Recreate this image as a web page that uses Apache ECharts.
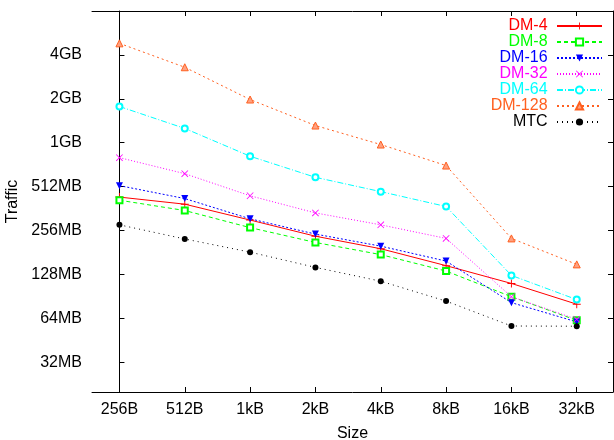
<!DOCTYPE html>
<html>
<head>
<meta charset="utf-8">
<script src="https://cdn.jsdelivr.net/npm/echarts@6/dist/echarts.min.js"></script>
<style>html,body{margin:0;padding:0;background:#fff}#c{width:614px;height:440px}</style>
</head>
<body>
<div id="c"></div>
<script>
// Categories (x axis)
var sizes = ['256B', '512B', '1kB', '2kB', '4kB', '8kB', '16kB', '32kB'];
// Traffic values in MB
var dm4   = [434, 388, 302, 234, 192, 147, 111, 80];
var dm8   = [413, 351, 268, 212, 175, 135, 90, 62];
var dm16  = [520, 424, 308, 242, 200, 158, 82, 60.5];
var dm32  = [809, 628, 443, 338, 280, 226, 90, 63];
var dm64  = [1814, 1283, 827, 593, 473, 374, 126, 86];
var dm128 = [4915, 3370, 2025, 1343, 995, 714, 226, 150];
var mtc   = [280, 224, 182, 143, 115, 84, 56.7, 56.5];
// Y tick values (MB)
var yTicks = [32, 64, 128, 256, 512, 1024, 2048, 4096];
var xTicks = [0, 1, 2, 3, 4, 5, 6, 7];

function pairs(arr) { return arr.map(function (v, i) { return [i, v]; }); }
function fmtY(v) { return v >= 1024 ? (v / 1024) + 'GB' : v + 'MB'; }

var FONT = 'Liberation Sans';
var FS = 16;
var plusPath = 'path://M0,4.4H10V5.6H0Z M4.4,0H5.6V10H4.4Z';
var crossPath = 'path://M0,0.8L0.8,0L10,9.2L9.2,10Z M9.2,0L10,0.8L0.8,10L0,9.2Z';

function mk(name, data, color, type, symbol, size, extra) {
  var s = {
    name: name, type: 'line', data: pairs(data),
    symbol: symbol, symbolSize: size,
    lineStyle: { color: color, width: 1, type: type },
    itemStyle: { color: color },
    animation: false
  };
  if (extra) for (var k in extra) s[k] = extra[k];
  return s;
}

var chart = echarts.init(document.getElementById('c'));
chart.setOption({
  backgroundColor: '#fff',
  animation: false,
  textStyle: { fontFamily: FONT },
  grid: { left: 92, right: 1, top: 11, bottom: 48, containLabel: false, outerBoundsMode: 'none' },
  legend: {
    right: 6, top: 13, orient: 'vertical', align: 'right',
    itemWidth: 45, itemHeight: 9, itemGap: 0,
    formatter: function (n) { return n + ' '; },
    textStyle: { fontSize: FS, lineHeight: 16, fontFamily: FONT },
    data: [
      { name: 'DM-4', textStyle: { color: '#ff0000' } },
      { name: 'DM-8', textStyle: { color: '#00ff00' } },
      { name: 'DM-16', textStyle: { color: '#0000ff' } },
      { name: 'DM-32', textStyle: { color: '#ff00ff' } },
      { name: 'DM-64', textStyle: { color: '#00ffff' } },
      { name: 'DM-128', textStyle: { color: '#ff6020' } },
      { name: 'MTC', textStyle: { color: '#000000' } }
    ]
  },
  xAxis: [{
    type: 'value', min: -0.42, max: 7.555, position: 'bottom',
    name: 'Size', nameLocation: 'middle', nameGap: 34,
    nameTextStyle: { fontSize: FS, color: '#000', fontFamily: FONT },
    axisLine: { show: true, lineStyle: { color: '#000', width: 1 } },
    axisTick: { show: true, inside: true, length: 5, customValues: xTicks, lineStyle: { color: '#000' } },
    axisLabel: { customValues: xTicks, fontSize: FS, fontFamily: FONT, color: '#000', margin: 10, formatter: function (v) { return sizes[Math.round(v)]; } },
    splitLine: { show: false }
  }, {
    type: 'value', min: -0.42, max: 7.555, position: 'top',
    axisLine: { show: true, onZero: false, lineStyle: { color: '#000', width: 1 } },
    axisTick: { show: true, inside: true, length: 5, customValues: xTicks, lineStyle: { color: '#000' } },
    axisLabel: { show: false },
    splitLine: { show: false }
  }],
  yAxis: [{
    type: 'log', logBase: 2, min: 20, max: 8192, position: 'left',
    name: 'Traffic', nameLocation: 'middle', nameGap: 67,
    nameTextStyle: { fontSize: FS, color: '#000', fontFamily: FONT },
    axisLine: { show: true, lineStyle: { color: '#000', width: 1 } },
    axisTick: { show: true, inside: true, length: 5, customValues: yTicks, lineStyle: { color: '#000' } },
    axisLabel: { customValues: yTicks, fontSize: FS, fontFamily: FONT, color: '#000', margin: 10, formatter: fmtY },
    splitLine: { show: false }
  }, {
    type: 'log', logBase: 2, min: 20, max: 8192, position: 'right',
    axisLine: { show: true, onZero: false, lineStyle: { color: '#000', width: 1 } },
    axisTick: { show: true, inside: true, length: 5, customValues: yTicks, lineStyle: { color: '#000' } },
    axisLabel: { show: false },
    splitLine: { show: false }
  }],
  series: [
    mk('DM-4', dm4, '#ff0000', 'solid', plusPath, 8),
    mk('DM-8', dm8, '#00ff00', [4, 3], 'emptyRect', 6),
    mk('DM-16', dm16, '#0000ff', [2, 2], 'triangle', 7, { symbolRotate: 180 }),
    mk('DM-32', dm32, '#ff00ff', [1, 2], crossPath, 7),
    mk('DM-64', dm64, '#00ffff', [6, 2, 1, 2], 'emptyCircle', 6),
    mk('DM-128', dm128, '#ff6020', [2, 3], 'triangle', 7, { itemStyle: { color: '#ffa080', borderColor: '#ff6020', borderWidth: 1 } }),
    mk('MTC', mtc, '#000000', [1, 4], 'circle', 6)
  ]
});
</script>
</body>
</html>
